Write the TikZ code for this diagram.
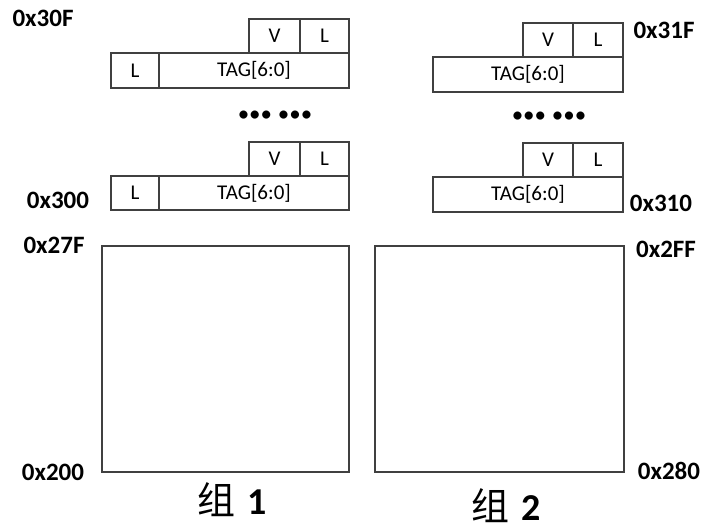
\documentclass[tikz,border=0pt]{standalone}
\usepackage{fontspec}
\setmainfont{Carlito}
\newfontfamily\cjk{Noto Sans CJK SC}
\definecolor{linec}{RGB}{64,64,64}
\tikzset{
  cell/.style={draw=linec, line width=2.2pt},
  celltxt/.style={font=\fontsize{21}{25}\selectfont, inner sep=0pt},
  addr/.style={font=\bfseries\fontsize{25}{29}\selectfont, inner sep=0pt},
  grp/.style={font=\fontsize{38}{42}\selectfont, inner sep=0pt, anchor=base},
  dotsty/.style={font=\fontsize{23}{27}\selectfont, inner sep=0pt}
}
\begin{document}
\begin{tikzpicture}[x=1pt,y=-1pt]
\useasboundingbox (0,0) rectangle (705,528);
% ---- group 1, top entry
\draw[cell] (249,19) rectangle (300,53) node[celltxt,midway] (v1a) {V};
\draw[cell] (300,19) rectangle (349,53) node[celltxt,midway] (l1a) {L};
\draw[cell] (111,53) rectangle (159,88) node[celltxt,midway] (ll1a) {L};
\draw[cell] (159,53) rectangle (349,88) node[celltxt,midway] (t1a) {TAG[6:0]};
% ---- group 1, bottom entry
\draw[cell] (249,142) rectangle (300,176) node[celltxt,midway] (v1b) {V};
\draw[cell] (300,142) rectangle (349,176) node[celltxt,midway] (l1b) {L};
\draw[cell] (111,176) rectangle (159,210) node[celltxt,midway] (ll1b) {L};
\draw[cell] (159,176) rectangle (349,210) node[celltxt,midway] (t1b) {TAG[6:0]};
% ---- group 2, top entry
\draw[cell] (523,23) rectangle (573,57) node[celltxt,midway] (v2a) {V};
\draw[cell] (573,23) rectangle (623,57) node[celltxt,midway] (l2a) {L};
\draw[cell] (433,57) rectangle (623,92) node[celltxt,midway] (t2a) {TAG[6:0]};
% ---- group 2, bottom entry
\draw[cell] (523,143) rectangle (573,177) node[celltxt,midway] (v2b) {V};
\draw[cell] (573,143) rectangle (623,177) node[celltxt,midway] (l2b) {L};
\draw[cell] (433,177) rectangle (623,212) node[celltxt,midway] (t2b) {TAG[6:0]};
% ---- dots
\node[dotsty] (d1) at (275,116) {•••\hspace{0.25em}•••};
\node[dotsty] (d2) at (549,117) {•••\hspace{0.25em}•••};
% ---- big boxes
\draw[cell] (102,246) rectangle (349,472);
\draw[cell] (375,246) rectangle (624,472);
% ---- address labels
\node[addr] (a30F) at (43,18) {0x30F};
\node[addr] (a300) at (58,200) {0x300};
\node[addr] (a31F) at (664,30) {0x31F};
\node[addr] (a310) at (661,203) {0x310};
\node[addr] (a27F) at (54,245) {0x27F};
\node[addr] (a200) at (53,472) {0x200};
\node[addr] (a2FF) at (666,249) {0x2FF};
\node[addr] (a280) at (669,471) {0x280};
% ---- group labels
\node[grp] (g1) at (232,514) {{\cjk 组}\hspace{0.3em}\textbf{1}};
\node[grp] (g2) at (506,520) {{\cjk 组}\hspace{0.3em}\textbf{2}};
\end{tikzpicture}
\end{document}
